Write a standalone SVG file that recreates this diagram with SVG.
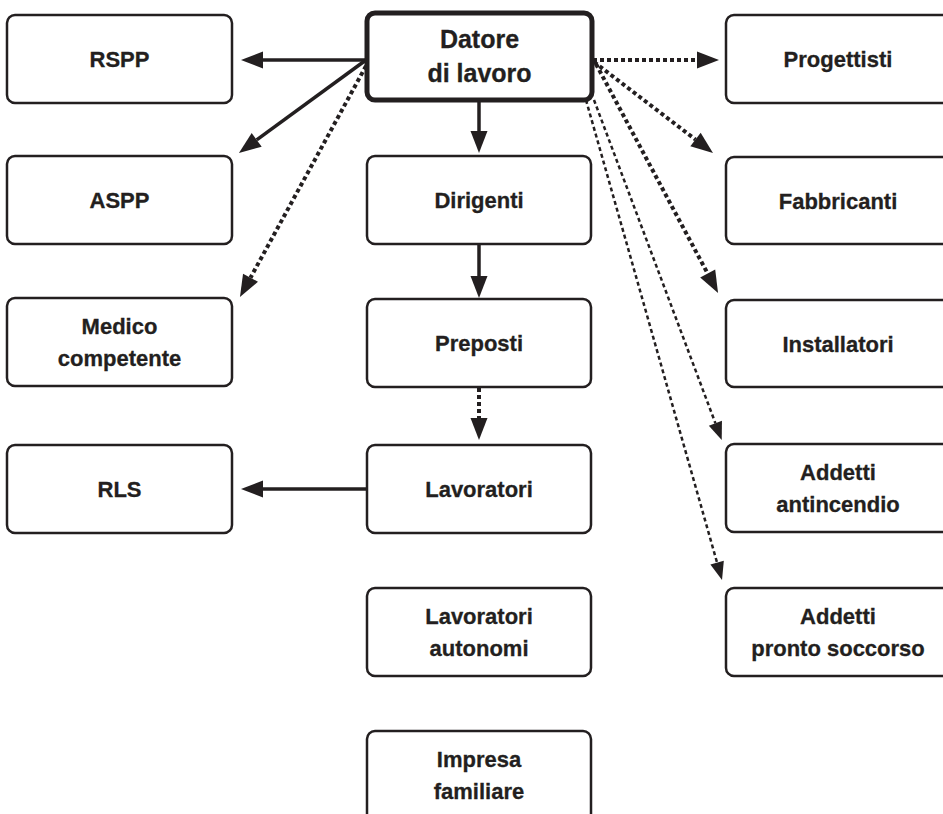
<svg xmlns="http://www.w3.org/2000/svg" width="943" height="814" viewBox="0 0 943 814">
<style>
.box{fill:#fff;stroke:#231f20;stroke-width:2.5}
.main{fill:#fff;stroke:#231f20;stroke-width:5}
text{font-family:"Liberation Sans",Arial,sans-serif;font-weight:bold;font-size:22px;fill:#231f20;text-anchor:middle;stroke:#231f20;stroke-width:0.3}
.big{font-size:25px}
.solid{stroke:#231f20;stroke-width:3.5;fill:none}
.dot{stroke:#231f20;stroke-width:4;fill:none;stroke-dasharray:4 3}
.thin{stroke:#231f20;stroke-width:2.5;fill:none;stroke-dasharray:4 3}
</style>
<defs>
<marker id="ah" markerUnits="userSpaceOnUse" markerWidth="22" markerHeight="17" refX="0" refY="8.5" orient="auto" overflow="visible">
<path d="M0,0 L22,8.5 L0,17 z" fill="#231f20"/>
</marker>
<marker id="ahs" markerUnits="userSpaceOnUse" markerWidth="18" markerHeight="14" refX="0" refY="7" orient="auto" overflow="visible">
<path d="M0,0 L18,7 L0,14 z" fill="#231f20"/>
</marker>
</defs>
<rect width="943" height="814" fill="#fff"/>
<g id="connectors">
<line class="solid" x1="366" y1="60" x2="263" y2="60" marker-end="url(#ah)"/>
<line class="solid" x1="366" y1="60" x2="256.7" y2="139.9" marker-end="url(#ah)"/>
<line class="dot" x1="366" y1="66" x2="250.5" y2="277.7" marker-end="url(#ah)"/>
<line class="solid" x1="479" y1="100" x2="479" y2="131" marker-end="url(#ah)"/>
<line class="solid" x1="479" y1="244" x2="479" y2="276" marker-end="url(#ah)"/>
<line class="dot" x1="479" y1="388" x2="479" y2="418" marker-end="url(#ah)"/>
<line class="solid" x1="366" y1="489" x2="263" y2="489" marker-end="url(#ah)"/>
<line class="dot" x1="593" y1="60" x2="697" y2="60" marker-end="url(#ah)"/>
<line class="dot" x1="594" y1="62" x2="695.5" y2="139.6" marker-end="url(#ah)"/>
<line class="dot" x1="596" y1="64" x2="707.7" y2="273.6" marker-end="url(#ah)"/>
<line class="thin" x1="594" y1="100" x2="715.4" y2="423.2" marker-end="url(#ahs)"/>
<line class="thin" x1="586" y1="100" x2="717.1" y2="562.7" marker-end="url(#ahs)"/>
</g>
<g id="datore"><rect class="main" x="367" y="13" width="225" height="87" rx="8"/><text class="big" x="479.5" y="48">Datore</text><text class="big" x="479.5" y="82">di lavoro</text></g>
<g id="rspp"><rect class="box" x="7" y="15" width="225" height="88" rx="8"/><text x="119.5" y="67">RSPP</text></g>
<g id="aspp"><rect class="box" x="7" y="156" width="225" height="88" rx="8"/><text x="119.5" y="208">ASPP</text></g>
<g id="medico"><rect class="box" x="7" y="298" width="225" height="88" rx="8"/><text x="119.5" y="334">Medico</text><text x="119.5" y="366">competente</text></g>
<g id="rls"><rect class="box" x="7" y="445" width="225" height="88" rx="8"/><text x="119.5" y="497">RLS</text></g>
<g id="dirigenti"><rect class="box" x="367" y="156" width="224" height="88" rx="8"/><text x="479" y="208">Dirigenti</text></g>
<g id="preposti"><rect class="box" x="367" y="299" width="224" height="88" rx="8"/><text x="479" y="351">Preposti</text></g>
<g id="lavoratori"><rect class="box" x="367" y="445" width="224" height="88" rx="8"/><text x="479" y="497">Lavoratori</text></g>
<g id="autonomi"><rect class="box" x="367" y="588" width="224" height="88" rx="8"/><text x="479" y="624">Lavoratori</text><text x="479" y="656">autonomi</text></g>
<g id="impresa"><rect class="box" x="367" y="731" width="224" height="100" rx="8"/><text x="479" y="767">Impresa</text><text x="479" y="799">familiare</text></g>
<g id="progettisti"><rect class="box" x="726" y="15" width="225" height="88" rx="8"/><text x="838" y="67">Progettisti</text></g>
<g id="fabbricanti"><rect class="box" x="726" y="157" width="225" height="87" rx="8"/><text x="838" y="209">Fabbricanti</text></g>
<g id="installatori"><rect class="box" x="726" y="300" width="225" height="87" rx="8"/><text x="838" y="352">Installatori</text></g>
<g id="antincendio"><rect class="box" x="726" y="444" width="225" height="88" rx="8"/><text x="838" y="480">Addetti</text><text x="838" y="512">antincendio</text></g>
<g id="prontosoccorso"><rect class="box" x="726" y="588" width="225" height="88" rx="8"/><text x="838" y="624">Addetti</text><text x="838" y="656">pronto soccorso</text></g>
</svg>
